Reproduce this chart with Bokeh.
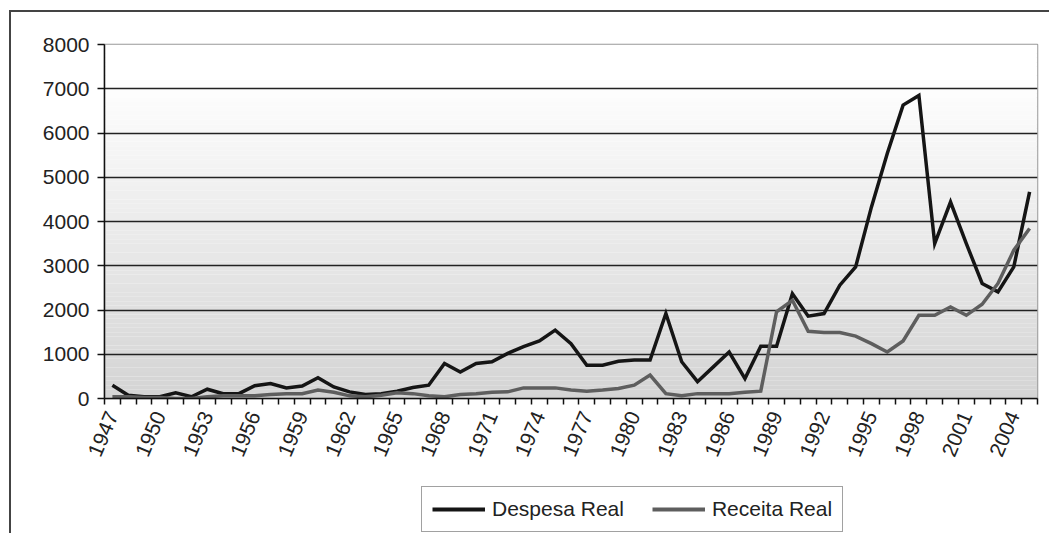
import numpy as np
from bokeh.plotting import figure
from bokeh.layouts import column
from bokeh.models import FixedTicker, Legend, LegendItem, Range1d
from bokeh.embed import file_html
from bokeh.resources import INLINE

years = list(range(1947, 2006))
despesa = [300, 75, 40, 40, 130, 40, 210, 110, 110, 290, 340, 240, 280, 470, 260, 150, 90, 110, 165, 250,
           300, 790, 600, 790, 830, 1020, 1170, 1300, 1545, 1240, 750, 750, 840, 870, 870, 1920, 830, 380, 715, 1050,
           450, 1180, 1180, 2370, 1860, 1920, 2560, 2975, 4330, 5535, 6630, 6850, 3500, 4440, 3500, 2600, 2410, 2975, 4670]
receita = [40, 40, 20, 20, 0, 0, 40, 60, 60, 60, 90, 110, 110, 190, 140, 60, 40, 75, 130, 110,
           60, 40, 90, 110, 140, 150, 240, 240, 240, 190, 165, 190, 225, 300, 530, 110, 60, 110, 110, 110,
           140, 165, 1960, 2220, 1520, 1490, 1490, 1410, 1240, 1050, 1300, 1880, 1880, 2070, 1880, 2130, 2600, 3350, 3840]
label_years = [1947, 1950, 1953, 1956, 1959, 1962, 1965, 1968, 1971, 1974, 1977, 1980, 1983, 1986,
               1989, 1992, 1995, 1998, 2001, 2004]
y_ticks = [0, 1000, 2000, 3000, 4000, 5000, 6000, 7000, 8000]
series_names = ["Despesa Real", "Receita Real"]

FONT = "Liberation Sans"
C_DESP = "#151515"
C_REC = "#5e5e5e"

xr = Range1d(years[0] - 0.5, years[-1] + 0.5)
p = figure(width=1040, height=466, x_range=xr, y_range=Range1d(0, 8000),
           output_backend="svg", toolbar_location=None,
           min_border_left=93, min_border_top=32, min_border_right=14, min_border_bottom=80)
p.margin = (10, 0, 0, 9)
p.styles = {"border-left": "2px solid #444", "border-top": "2px solid #444"}

# gradient background (style only)
nb = 80
bot = np.linspace(0, 8000, nb + 1)[:-1]
top = bot + 8000 / nb
cols = []
for b in bot:
    t = min(b / 7200.0, 1.0)
    g = int(round(212 + (255 - 212) * t))
    cols.append("#%02x%02x%02x" % (g, g, g))
p.quad(left=years[0] - 0.5, right=years[-1] + 0.5, bottom=bot, top=top, fill_color=cols,
       line_color=None, level="image")

p.background_fill_color = "white"
p.border_fill_color = "white"
p.outline_line_color = "#999999"
p.outline_line_width = 1.5

p.xgrid.grid_line_color = None
p.ygrid.grid_line_color = "#222222"
p.ygrid.grid_line_width = 1.5

p.line(years, despesa, line_color=C_DESP, line_width=3.5, line_join="miter")
p.line(years, receita, line_color=C_REC, line_width=3.5, line_join="miter")

p.yaxis.ticker = FixedTicker(ticks=y_ticks)
p.yaxis.major_tick_out = 7
p.yaxis.major_tick_in = 0
p.yaxis.minor_tick_line_color = None
p.yaxis.axis_line_width = 1.5
p.yaxis.axis_line_color = "#111111"
p.yaxis.major_tick_line_color = "#111111"
p.yaxis.major_tick_line_width = 1.5
p.yaxis.major_label_text_font = FONT
p.yaxis.major_label_text_font_size = "21px"
p.yaxis.major_label_text_color = "#222222"
p.yaxis.major_label_standoff = 8

p.xaxis.ticker = FixedTicker(ticks=label_years, minor_ticks=[y - 0.5 for y in years] + [years[-1] + 0.5])
p.xaxis.major_tick_line_color = None
p.xaxis.minor_tick_line_color = "#111111"
p.xaxis.minor_tick_line_width = 1.5
p.xaxis.minor_tick_out = 6
p.xaxis.minor_tick_in = 0
p.xaxis.axis_line_width = 1.5
p.xaxis.axis_line_color = "#111111"
p.xaxis.major_label_orientation = 1.17
p.xaxis.major_label_text_font = FONT
p.xaxis.major_label_text_font_size = "21px"
p.xaxis.major_label_text_color = "#222222"
p.xaxis.major_label_standoff = 8

# legend strip below the chart (same series, drawn outside its visible range)
q = figure(width=1040, height=57, x_range=xr, y_range=Range1d(-30000, -20000),
           output_backend="svg", toolbar_location=None, x_axis_type=None, y_axis_type=None,
           min_border_left=0, min_border_top=0, min_border_right=0, min_border_bottom=0)
q.margin = (0, 0, 0, 9)
q.styles = {"border-left": "2px solid #444"}
q.outline_line_color = None
q.xgrid.grid_line_color = None
q.ygrid.grid_line_color = None
q.background_fill_color = "white"
q.border_fill_color = "white"
l1 = q.line(years, despesa, line_color=C_DESP, line_width=4)
l2 = q.line(years, receita, line_color=C_REC, line_width=4)

legend = Legend(items=[LegendItem(label=series_names[0], renderers=[l1]),
                       LegendItem(label=series_names[1], renderers=[l2])],
                orientation="horizontal", location=(317, 1))
legend.label_text_font = FONT
legend.label_text_font_size = "21px"
legend.label_text_color = "#222222"
legend.border_line_color = "#444444"
legend.border_line_width = 1.5
legend.background_fill_color = "white"
legend.background_fill_alpha = 1.0
legend.glyph_width = 53
legend.glyph_height = 20
legend.label_standoff = 7
legend.spacing = 28
legend.padding = 10
legend.margin = 0
q.add_layout(legend, "center")

layout = column(p, q, spacing=0)
open("out.html", "w").write(file_html(layout, INLINE))
